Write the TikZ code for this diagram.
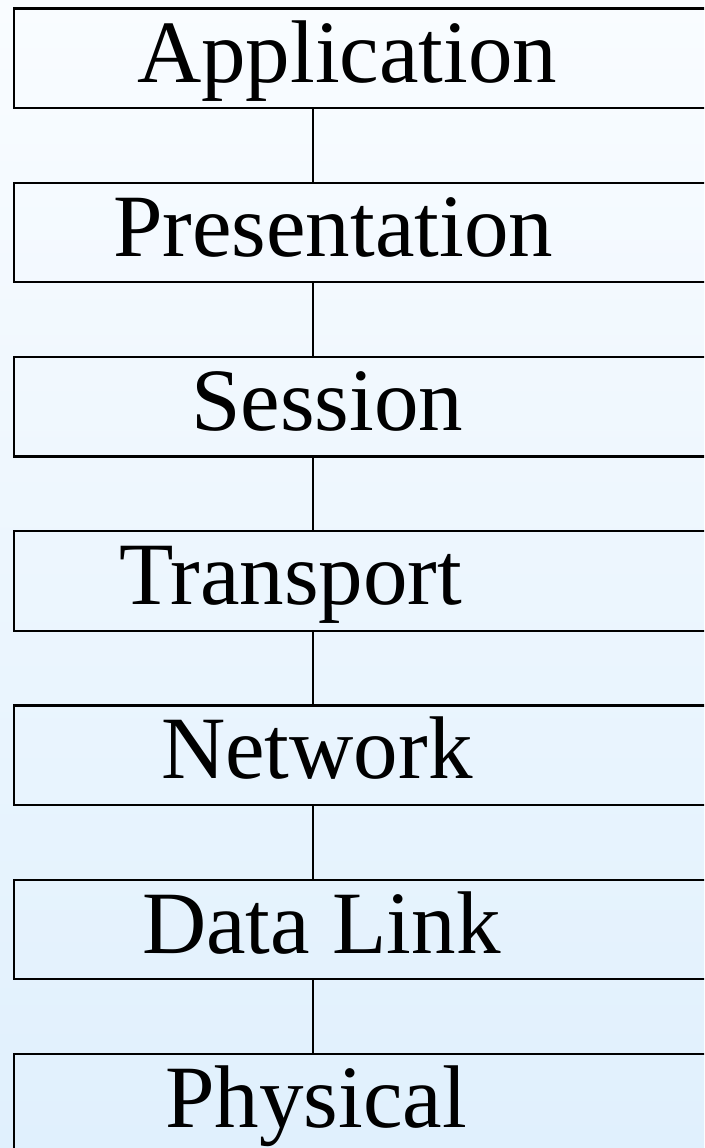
\documentclass[tikz,border=0pt]{standalone}
\usepackage{fontspec}
\setmainfont{Liberation Serif}
\definecolor{bgtop}{RGB}{249,252,255}
\definecolor{bgbot}{RGB}{224,240,253}
\tikzset{
  layerbox/.style={draw=black, line width=2.2pt, rectangle, minimum width=707.5pt, minimum height=99.5pt, inner sep=0pt, anchor=north west},
  layertext/.style={anchor=base west, inner sep=0pt, font=\fontsize{89}{89}\selectfont},
  link/.style={draw=black, line width=2.2pt}
}
\begin{document}
\begin{tikzpicture}[x=1pt,y=-1pt]
\useasboundingbox (0,0) rectangle (704,1148);
\shade[top color=bgtop, bottom color=bgbot] (0,0) rectangle (704,1148);
\clip (0,0) rectangle (704,1148);
\foreach \i/\name/\lx/\txt in {0/b1/137/Application,1/b2/113/Presentation,2/b3/191/Session,3/b4/119/Transport,4/b5/161/Network,5/b6/142/Data Link,6/b7/165/Physical}{
  \node[layerbox] (\name) at (12.5,{7.5+174.2*\i}) {};
  \node[layertext] (t\name) at (\lx,{82+174.2*\i}) {\txt};
}
\foreach \a/\b in {b1/b2,b2/b3,b3/b4,b4/b5,b5/b6,b6/b7}{
  \draw[link] ([xshift=-54.5pt]\a.south) -- ([xshift=-54.5pt]\b.north);
}
\end{tikzpicture}
\end{document}
